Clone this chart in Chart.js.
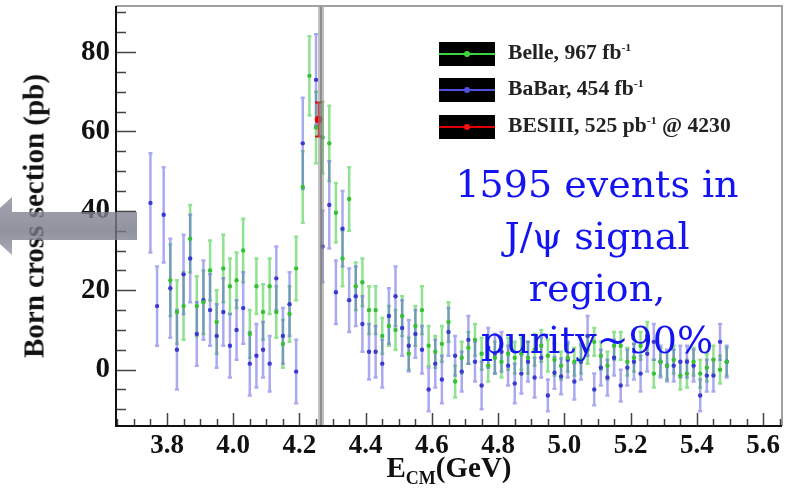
<!DOCTYPE html>
<html>
<head>
<meta charset="utf-8">
<script src="https://cdn.jsdelivr.net/npm/chart.js@4.4.0/dist/chart.umd.min.js"></script>
<style>
html, body { margin: 0; padding: 0; background: #fff; }
#wrap { position: relative; width: 792px; height: 495px; overflow: hidden; }
#wrap canvas { position: absolute; left: 0; top: 0; }
.lg-box { position: absolute; left: 439px; width: 56px; height: 24px; background: #000; }
.lg-box i { position: absolute; left: 0; right: 0; top: 11px; height: 2px; }
.lg-box b { position: absolute; left: 25px; top: 9px; width: 6px; height: 6px; border-radius: 50%; }
.lg-text { position: absolute; left: 508px; font: bold 20px "Liberation Serif", serif; color: #222;
           white-space: nowrap; transform: scaleX(1.08); transform-origin: 0 0; }
.lg-text sup { font-size: 11px; vertical-align: 8px; line-height: 0; }
#note { position: absolute; left: 437px; top: 158px; width: 320px; text-align: center;
        font: 38px "DejaVu Serif", serif; color: #1414f0; line-height: 52px; }
#xtitle { position: absolute; left: 0; width: 898px; top: 451px; text-align: center;
          font: bold 29px "Liberation Serif", serif; color: #111; }
#xtitle sub { font-size: 18px; vertical-align: -7px; line-height: 0; }
#ytitle { position: absolute; left: 34px; top: 216px; transform: translate(-50%, -50%) rotate(-90deg);
          font: bold 29px "Liberation Serif", serif; color: #111; white-space: nowrap; }
#arrow { position: absolute; left: -20px; top: 197px; width: 157px; height: 58px;
         background: linear-gradient(#8b8d9b, #757787 60%, #9597a4);
         clip-path: polygon(0 29px, 32px 0, 32px 15px, 157px 15px, 157px 43px, 32px 43px, 32px 58px); opacity: 0.8; }
</style>
</head>
<body>
<div id="wrap">
  <canvas id="chart" width="792" height="495"></canvas>
  <div id="ytitle">Born cross section (pb)</div>
  <div id="xtitle">E<sub>CM</sub>(GeV)</div>
  <div class="lg-box" style="top:42px"><i style="background:#3fd43f"></i><b style="background:#3fd43f"></b></div>
  <div class="lg-box" style="top:78px"><i style="background:#5050e0"></i><b style="background:#5050e0"></b></div>
  <div class="lg-box" style="top:115px"><i style="background:#e00000"></i><b style="background:#ff1010"></b></div>
  <div class="lg-text" style="top:41px">Belle, 967 fb<sup>-1</sup></div>
  <div class="lg-text" style="top:77px">BaBar, 454 fb<sup>-1</sup></div>
  <div class="lg-text" style="top:114px">BESIII, 525 pb<sup>-1</sup> @ 4230</div>
  <div id="note">1595 events in<br>J/&psi; signal<br>region,<br>purity~90%</div>
  <div id="arrow"></div>
</div>
<script>
// Axes
const energyTicks = [3.8, 4.0, 4.2, 4.4, 4.6, 4.8, 5.0, 5.2, 5.4, 5.6];
const xsTicks = [0, 20, 40, 60, 80];
const xRange = [3.646, 5.657];
const yRange = [-14.2, 91.6];

// Belle
const belleE = [3.81,3.83,3.85,3.87,3.89,3.91,3.93,3.95,3.97,3.99,
  4.01,4.03,4.05,4.07,4.09,4.11,4.13,4.15,4.17,4.19,
  4.21,4.23,4.25,4.27,4.29,4.31,4.33,4.35,4.37,4.39,
  4.41,4.43,4.45,4.47,4.49,4.51,4.53,4.55,4.57,4.59,
  4.61,4.63,4.65,4.67,4.69,4.71,4.73,4.75,4.77,4.79,
  4.81,4.83,4.85,4.87,4.89,4.91,4.93,4.95,4.97,4.99,
  5.01,5.03,5.05,5.07,5.09,5.11,5.13,5.15,5.17,5.19,
  5.21,5.23,5.25,5.27,5.29,5.31,5.33,5.35,5.37,5.39,
  5.41,5.43,5.45,5.47,5.49];
const belleXs = [22.5,14.5,16,33,16,17,25,12,25.5,21,
  22.5,30,9,21,14.5,21,14.5,6.5,14,25.5,
  46,74,61,58.5,57,39.5,28,43,21,22,
  15,15,8.5,11,10,13.5,4,11,15,6,
  4.5,6.5,12,-3,3,5.5,7.5,4,1,3,
  2,4,3,4,3,5,6,3.5,2.5,1,
  3,2,2.5,5,7,3.5,1,6,6,2,
  3,6,8.5,-1,2,1,2.5,-1.5,-1,2,
  -1,0.5,2.5,0,2];
const belleErr = [9,8,8.5,8.5,7.5,8,7.5,8,8.5,7,
  7,8,6,7,7,7,6.5,6,7,8,
  9,10,9,9,9.5,7.5,7,8,6,6,
  6,6,4.5,5,5,5,4,5,6,5,
  4,4.5,5,4,4,4,4,4,4,4,
  4,4,4,4,4,4,4,4,4,3.5,
  3.5,3.5,3.5,3.5,3.5,3.5,3.5,3.5,3.5,3.5,
  3.5,3.5,3.5,3.5,3.5,3.5,3.5,3.5,3.5,3.5,
  3.5,3.5,3.5,3.5,3.5];

// BaBar
const babarE = [3.75,3.77,3.79,3.81,3.83,3.85,3.87,3.89,3.91,3.93,
  3.95,3.97,3.99,4.01,4.03,4.05,4.07,4.09,4.11,4.13,
  4.15,4.17,4.19,4.21,
  4.25,4.27,4.29,4.31,4.33,4.35,4.37,4.39,4.41,4.43,
  4.45,4.47,4.49,4.51,4.53,4.55,4.57,4.59,4.61,4.63,
  4.65,4.67,4.69,4.71,4.73,4.75,4.77,4.79,4.81,4.83,
  4.85,4.87,4.89,4.91,4.93,4.95,4.97,4.99,5.01,5.03,
  5.05,5.07,5.09,5.11,5.13,5.15,5.17,5.19,5.21,5.23,
  5.25,5.27,5.29,5.31,5.33,5.35,5.37,5.39,5.41,5.43,
  5.45,5.47,5.49];
const babarXs = [42,16,39,20.5,5,24,28,9,17.5,15,
  8.5,14.5,6,10,15.5,1.5,3.5,5,1.5,23,
  8.5,16.5,-0.5,57,
  73,31,41.5,19.5,35.5,17.5,18.5,11.5,4.5,4.5,
  1.5,13.5,18.5,10.5,6,9,5,-5,1.5,-2.5,
  9.5,3.5,-0.5,7.5,2,-4,5.5,4,4.5,1,
  -3.5,-1,2,-2,3,-6.5,-0.8,-1.7,2.5,-3,
  2,8.5,-5,0.5,-2,3,-4,0.5,2,-1,
  4,7,2,1,1,2,2,1,-6.5,-1.5,
  -1.5,7,2];
const babarErr = [12.5,10,12,12.5,10,10,11,8,10,9,
  8,8.5,8,7.5,9,8,8,7,7,8,
  7,8,8,11.5,
  11.5,9,11,8,9.5,8,7.5,7,7,6.5,
  6,7,7.5,7,6.5,6,6,5.5,6,6,
  6,5,5,6,5,6,5,5,5,5,
  5,5,5,5,5,4,4,4.5,4.5,4.5,
  4.5,5,4,4.5,4.5,4.5,4,4.5,4.5,4.5,
  4.5,4.5,4,4,4,4,4,4,4,4,
  4,4.5,4];

// BESIII
const besE = [4.258];
const besXs = [63];
const besErr = [4.3];

// vertical marker line
const markerE = [4.265];

function toPoints(e, v) { return e.map((x, i) => ({ x: x, y: v[i] })); }

const series = [
  { e: belleE, v: belleXs, err: belleErr, bar: 'rgba(70,205,70,0.6)', cap: 2, lw: 2.5 },
  { e: babarE, v: babarXs, err: babarErr, bar: 'rgba(85,85,225,0.5)', cap: 2, lw: 2.5 },
  { e: besE, v: besXs, err: besErr, bar: '#e00000', cap: 3.5, lw: 2 }
];

// error bars + marker line, drawn through the chart scales
const errorBars = {
  id: 'errorBars',
  beforeDatasetsDraw(chart) {
    const { ctx, chartArea: a, scales: { x, y } } = chart;
    ctx.save();
    ctx.beginPath();
    ctx.rect(a.left, a.top, a.right - a.left, a.bottom - a.top);
    ctx.clip();
    series.forEach(s => {
      ctx.strokeStyle = s.bar;
      ctx.lineWidth = s.lw;
      s.e.forEach((e, i) => {
        const px = x.getPixelForValue(e);
        const top = y.getPixelForValue(s.v[i] + s.err[i]);
        const bot = y.getPixelForValue(s.v[i] - s.err[i]);
        ctx.beginPath();
        ctx.moveTo(px, top); ctx.lineTo(px, bot);
        ctx.moveTo(px - s.cap, top); ctx.lineTo(px + s.cap, top);
        ctx.moveTo(px - s.cap, bot); ctx.lineTo(px + s.cap, bot);
        ctx.stroke();
      });
    });
    ctx.restore();
  },
  afterDatasetsDraw(chart) {
    const { ctx, chartArea: a, scales: { x } } = chart;
    ctx.save();
    markerE.forEach(e => {
      const px = x.getPixelForValue(e);
      ctx.fillStyle = 'rgba(140,140,140,0.55)';
      ctx.fillRect(px - 3, a.top, 6, a.bottom - a.top);
      ctx.fillStyle = 'rgba(110,110,110,0.6)';
      ctx.fillRect(px - 1, a.top, 2, a.bottom - a.top);
    });
    ctx.restore();
  }
};

// ROOT style frame with ticks inside
const frame = {
  id: 'frame',
  afterDraw(chart) {
    const { ctx, chartArea: a, scales: { x, y } } = chart;
    ctx.save();
    ctx.strokeStyle = '#a0a0a0';
    ctx.lineWidth = 2;
    ctx.beginPath();
    ctx.moveTo(a.left, a.top); ctx.lineTo(a.right, a.top); ctx.lineTo(a.right, a.bottom);
    ctx.stroke();

    ctx.strokeStyle = '#444';
    ctx.lineWidth = 1.5;
    ctx.beginPath();
    for (let k = -2; k <= 18; k++) {
      const v = k * 5;
      const py = Math.round(y.getPixelForValue(v)) + 0.5;
      if (py < a.top || py > a.bottom) continue;
      const len = v % 20 === 0 ? 20 : 10;
      ctx.moveTo(a.left, py); ctx.lineTo(a.left + len, py);
    }
    for (let k = 73; k <= 113; k++) {
      const v = k * 0.05;
      const px = Math.round(x.getPixelForValue(v)) + 0.5;
      if (px < a.left || px > a.right) continue;
      const major = k % 4 === 0;
      ctx.moveTo(px, a.bottom); ctx.lineTo(px, a.bottom - (major ? 13 : 7));
    }
    ctx.stroke();

    ctx.strokeStyle = '#111';
    ctx.lineWidth = 2;
    ctx.beginPath();
    ctx.moveTo(a.left, a.top); ctx.lineTo(a.left, a.bottom); ctx.lineTo(a.right, a.bottom);
    ctx.stroke();
    ctx.restore();
  }
};

new Chart(document.getElementById('chart'), {
  type: 'scatter',
  data: {
    datasets: [
      { label: 'Belle, 967 fb-1', data: toPoints(belleE, belleXs), pointRadius: 2.2,
        backgroundColor: '#35c035', borderWidth: 0 },
      { label: 'BaBar, 454 fb-1', data: toPoints(babarE, babarXs), pointRadius: 2.2,
        backgroundColor: '#3a3ad0', borderWidth: 0 },
      { label: 'BESIII, 525 pb-1 @ 4230', data: toPoints(besE, besXs), pointRadius: 3.8,
        backgroundColor: '#ee0000', borderWidth: 0 }
    ]
  },
  options: {
    responsive: false,
    animation: false,
    events: [],
    layout: { padding: { top: 6, right: 10, left: 0, bottom: 0 } },
    plugins: { legend: { display: false }, tooltip: { enabled: false } },
    scales: {
      x: {
        type: 'linear', min: xRange[0], max: xRange[1],
        grid: { display: false, drawTicks: false }, border: { display: false },
        afterBuildTicks: s => { s.ticks = energyTicks.map(v => ({ value: v })); },
        afterFit: s => { s.height = 69; s.paddingLeft = 0; s.paddingRight = 0; },
        ticks: { padding: 4, color: '#111', maxRotation: 0, autoSkip: false,
                 font: { family: 'Liberation Serif', size: 27, weight: 'bold' },
                 callback: v => v.toFixed(1) }
      },
      y: {
        type: 'linear', min: yRange[0], max: yRange[1],
        grid: { display: false, drawTicks: false }, border: { display: false },
        afterBuildTicks: s => { s.ticks = xsTicks.map(v => ({ value: v })); },
        afterFit: s => { s.width = 116; s.paddingTop = 0; s.paddingBottom = 0; },
        ticks: { padding: 6, color: '#111',
                 font: { family: 'Liberation Serif', size: 29, weight: 'bold' } }
      }
    }
  },
  plugins: [errorBars, frame]
});
</script>
</body>
</html>
